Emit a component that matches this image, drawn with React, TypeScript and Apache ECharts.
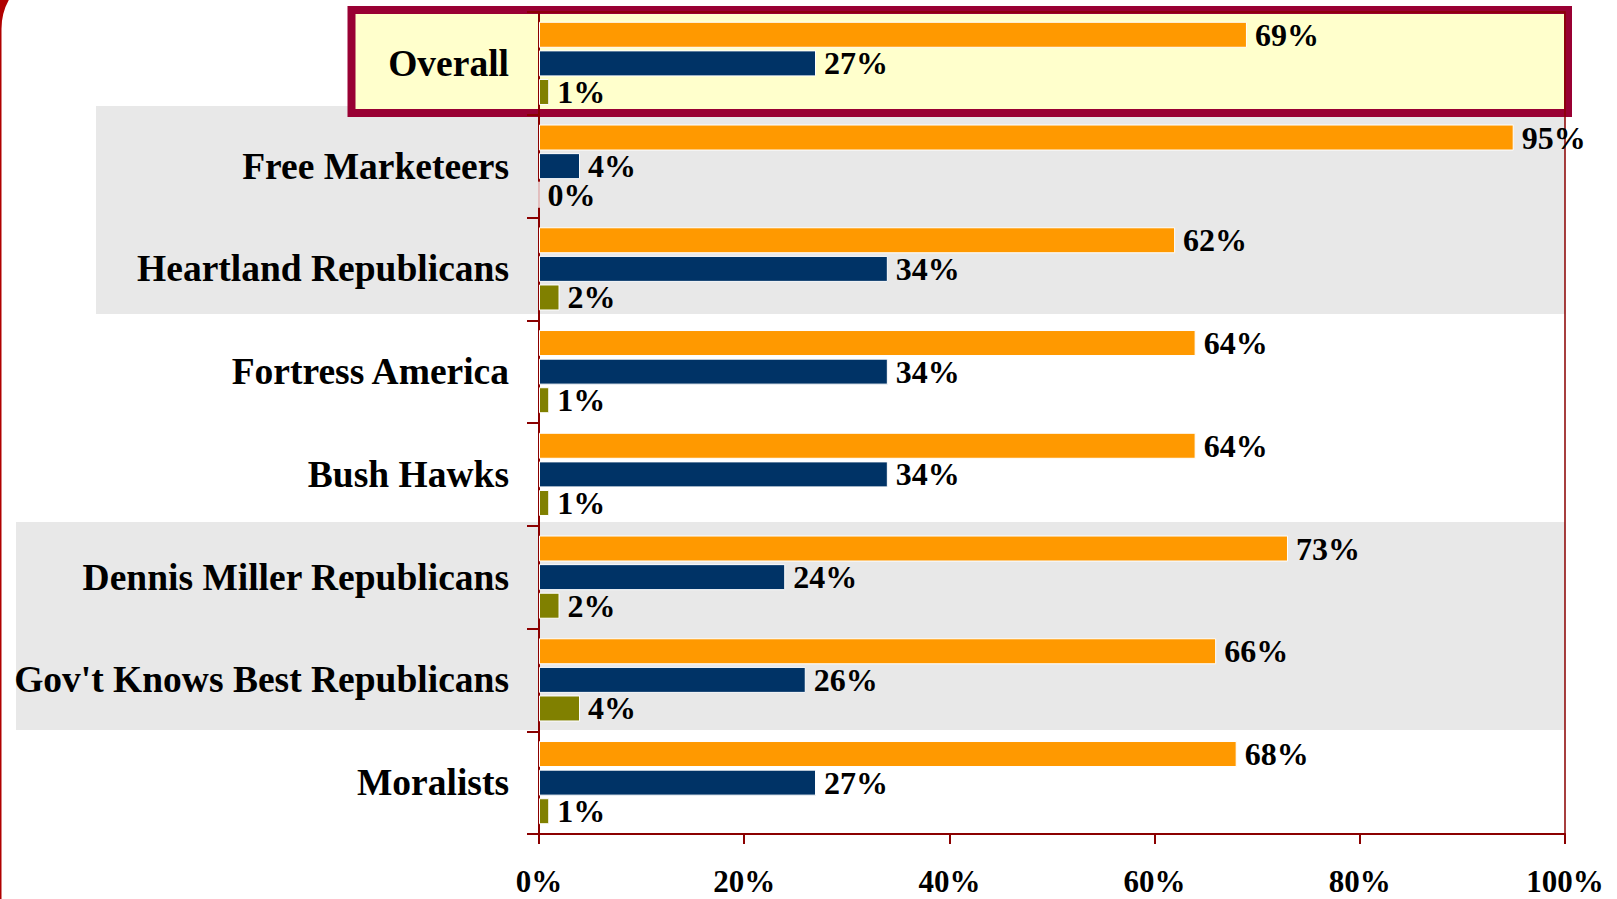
import React, { useEffect, useRef } from "react";
import * as echarts from "echarts";

const categories = [
  "Overall",
  "Free Marketeers",
  "Heartland Republicans",
  "Fortress America",
  "Bush Hawks",
  "Dennis Miller Republicans",
  "Gov't Knows Best Republicans",
  "Moralists",
];
const orangeValues = [69, 95, 62, 64, 64, 73, 66, 68];
const navyValues = [27, 4, 34, 34, 34, 24, 26, 27];
const oliveValues = [1, 0, 2, 1, 1, 2, 4, 1];
const xTicks = [0, 20, 40, 60, 80, 100];

const FONT = "'Liberation Serif', 'Times New Roman', serif";
const AXIS_RED = "#8B0000";

export default function App() {
  const ref = useRef<HTMLDivElement>(null);
  useEffect(() => {
    if (!ref.current) return;
    const chart = echarts.init(ref.current, undefined, { renderer: "svg" });
    const label = {
      show: true,
      position: "right",
      distance: 8,
      formatter: "{c}%",
      color: "#000",
      fontFamily: FONT,
      fontWeight: "bold",
      fontSize: 32,
    };
    const mkSeries = (name: string, data: number[], color: string) => ({
      name,
      type: "bar",
      data,
      barWidth: 26,
      barGap: "10%",
      itemStyle: { color, borderColor: "#ffffff", borderWidth: 1 },
      label,
      z: 3,
    });
    chart.setOption({
      animation: false,
      backgroundColor: "#ffffff",
      grid: {
        left: 539,
        right: 52,
        top: 12,
        bottom: 65,
        show: true,
        borderColor: AXIS_RED,
        borderWidth: 1.5,
        backgroundColor: "transparent",
        containLabel: false,
      },
      xAxis: {
        type: "value",
        min: xTicks[0],
        max: xTicks[xTicks.length - 1],
        interval: 20,
        splitLine: { show: false },
        axisLine: { show: true, lineStyle: { color: AXIS_RED, width: 2 } },
        axisTick: { show: true, length: 10, lineStyle: { color: AXIS_RED, width: 2 } },
        axisLabel: {
          formatter: "{value}%",
          color: "#000",
          fontFamily: FONT,
          fontWeight: "bold",
          fontSize: 31,
          lineHeight: 31,
          margin: 32,
        },
      },
      yAxis: {
        type: "category",
        data: categories,
        inverse: true,
        axisLine: { show: true, lineStyle: { color: AXIS_RED, width: 2 } },
        axisTick: { show: true, length: 12, lineStyle: { color: AXIS_RED, width: 2 } },
        axisLabel: {
          color: "#000",
          fontFamily: FONT,
          fontWeight: "bold",
          fontSize: 37.5,
          margin: 30,
        },
      },
      graphic: [
        {
          type: "rect",
          z: -10,
          silent: true,
          shape: { x: -4.5, y: -37, width: 3000, height: 3000, r: 66 },
          style: { fill: "none", stroke: "#B00000", lineWidth: 12 },
        },
        {
          type: "rect",
          z: -10,
          silent: true,
          shape: { x: 96, y: 106, width: 1565 - 96, height: 208 },
          style: { fill: "#E8E8E8" },
        },
        {
          type: "rect",
          z: -10,
          silent: true,
          shape: { x: 16, y: 522, width: 1565 - 16, height: 208 },
          style: { fill: "#E8E8E8" },
        },
        {
          type: "rect",
          z: -5,
          silent: true,
          shape: { x: 351.5, y: 10, width: 1568 - 351.5, height: 103 },
          style: { fill: "#FFFFCC", stroke: "#990033", lineWidth: 8 },
        },
      ],
      series: [
        mkSeries("A", orangeValues, "#FF9900"),
        mkSeries("B", navyValues, "#003366"),
        mkSeries("C", oliveValues, "#808000"),
      ],
    });
    return () => chart.dispose();
  }, []);
  return (
    <div
      ref={ref}
      style={{ position: "absolute", left: 0, top: 0, width: 1617, height: 899 }}
    />
  );
}
